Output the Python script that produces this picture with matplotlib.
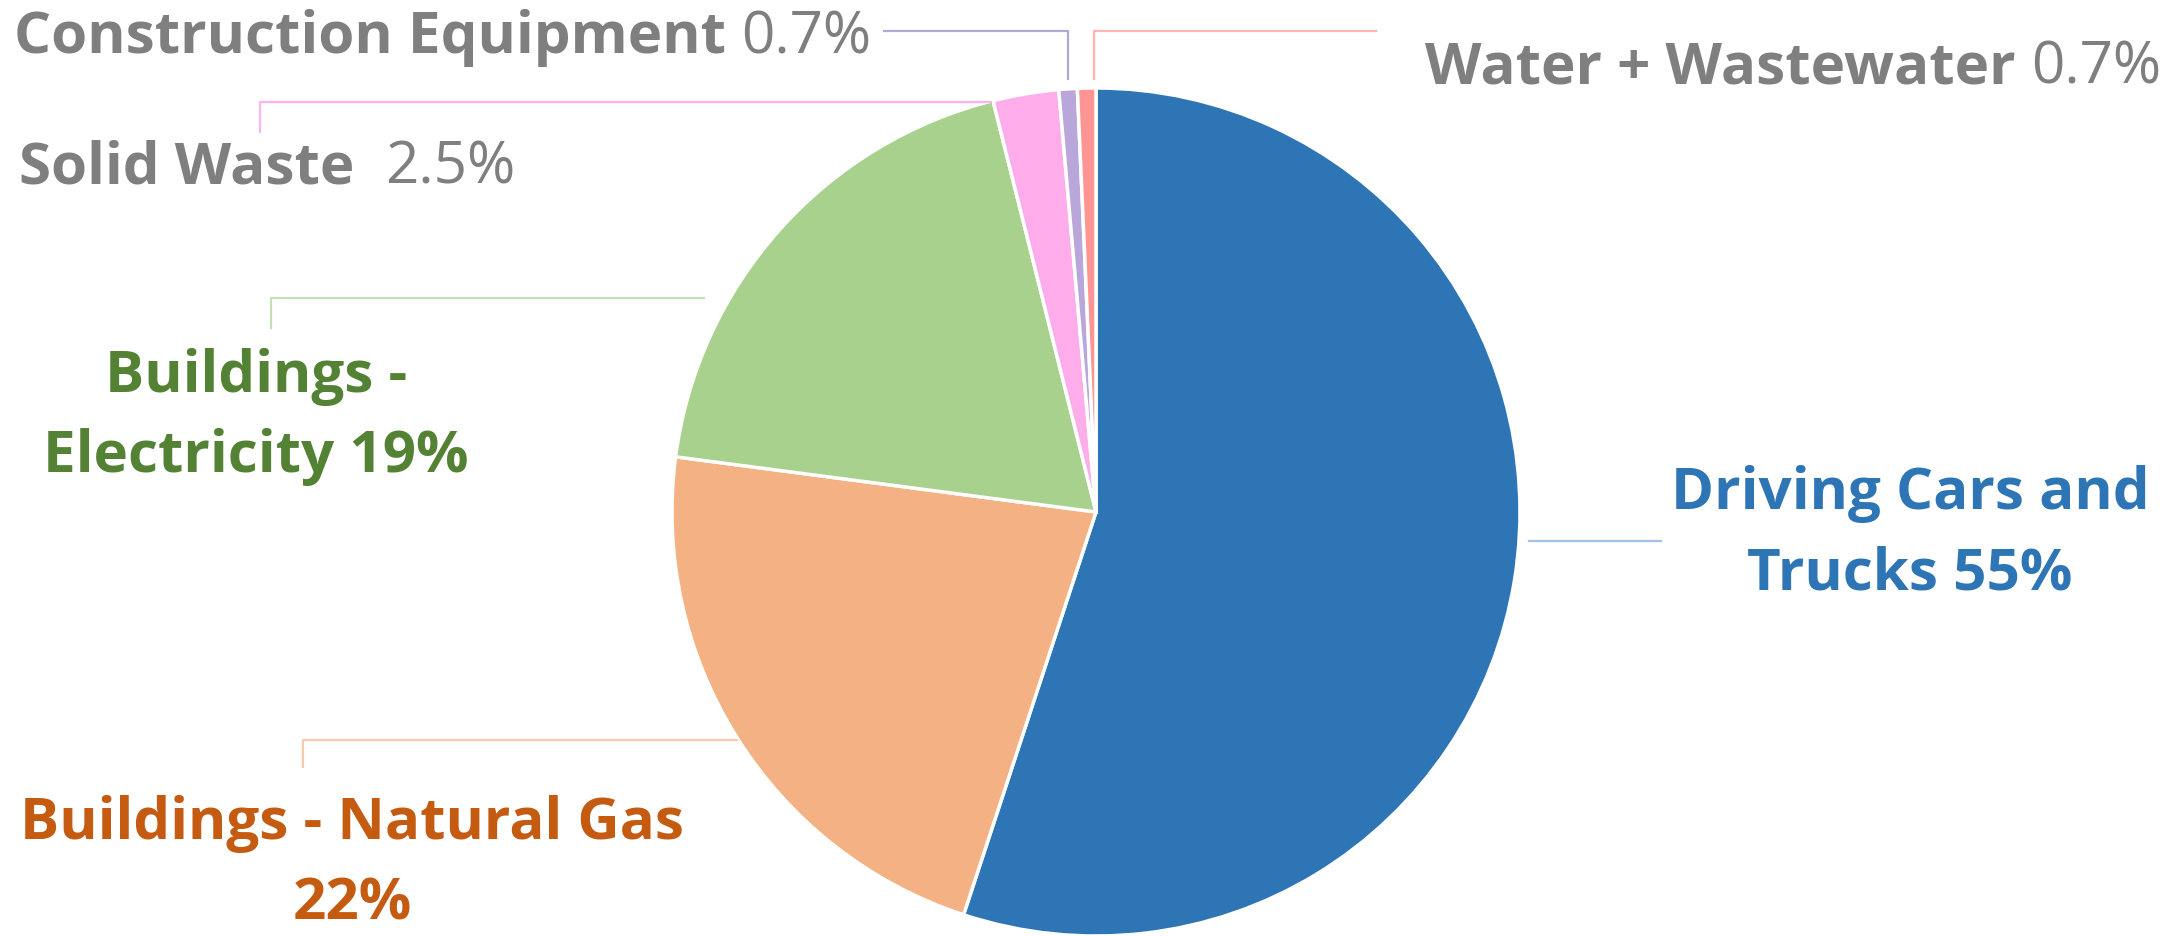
import matplotlib.pyplot as plt

# Data
labels = ['Driving Cars and\nTrucks', 'Buildings - Natural Gas', 'Buildings -\nElectricity',
          'Solid Waste', 'Construction Equipment', 'Water + Wastewater']
shares = [55, 22, 19, 2.5, 0.7, 0.7]
pct_text = ['55%', '22%', '19%', '2.5%', '0.7%', '0.7%']
colors = ['#2E75B6', '#F4B183', '#A9D18E', '#FFADEA', '#B9A6DA', '#FF9494']
line_colors = ['#9DC3E6', '#F8CBAD', '#C5E0B4', '#FFB3EC', '#B4A7D6', '#FFB3B3']
text_colors = ['#2E75B6', '#C55A11', '#548235', '#7F7F7F', '#7F7F7F', '#7F7F7F']

W, H = 2180, 936
plt.rcParams['font.family'] = ['Open Sans', 'DejaVu Sans']

fig = plt.figure(figsize=(W / 100, H / 100), dpi=100)
ax = fig.add_axes([0, 0, 1, 1])

# pie in pixel coordinates (y measured upward)
ax.pie(shares, colors=colors, startangle=90, counterclock=False,
       center=(1096, H - 512), radius=424,
       wedgeprops=dict(edgecolor='white', linewidth=2.5))
ax.set_xlim(0, W)
ax.set_ylim(0, H)
ax.set_aspect('equal')
ax.axis('off')


def Y(y):
    return H - y


fs = 42

# leader lines
lw = 1.6
ax.plot([1529, 1661], [Y(541), Y(541)], color=line_colors[0], lw=lw)
ax.plot([303, 303, 737], [Y(767), Y(740), Y(740)], color=line_colors[1], lw=lw)
ax.plot([271, 271, 704], [Y(328), Y(298), Y(298)], color=line_colors[2], lw=lw)
ax.plot([260, 260, 991], [Y(132), Y(102), Y(102)], color=line_colors[3], lw=lw)
ax.plot([884, 1068, 1068], [Y(31), Y(31), Y(79)], color=line_colors[4], lw=lw)
ax.plot([1376, 1094, 1094], [Y(31), Y(31), Y(79)], color=line_colors[5], lw=lw)

# big coloured labels
ax.text(1910, Y(534), labels[0] + ' ' + pct_text[0], ha='center', va='center',
        fontsize=fs, fontweight='bold', color=text_colors[0], linespacing=1.5)
ax.text(352, Y(864), labels[1] + '\n' + pct_text[1], ha='center', va='center',
        fontsize=fs, fontweight='bold', color=text_colors[1], linespacing=1.5)
ax.text(256, Y(417), labels[2] + ' ' + pct_text[2], ha='center', va='center',
        fontsize=fs, fontweight='bold', color=text_colors[2], linespacing=1.5)


# grey labels: bold name + regular percentage
def grey_label(x, y, name, pct):
    t = ax.text(x, Y(y), name, ha='left', va='baseline', fontsize=fs,
                fontweight='bold', color='#7F7F7F')
    ax.annotate(pct, xy=(1, 0), xycoords=t, ha='left', va='bottom',
                fontsize=fs, color='#7F7F7F')


grey_label(14, 53, labels[4] + ' ', pct_text[4])
grey_label(1425, 84, labels[5] + ' ', pct_text[5])
grey_label(19, 184, labels[3] + '  ', pct_text[3])

fig.savefig('out.png', dpi=100)
